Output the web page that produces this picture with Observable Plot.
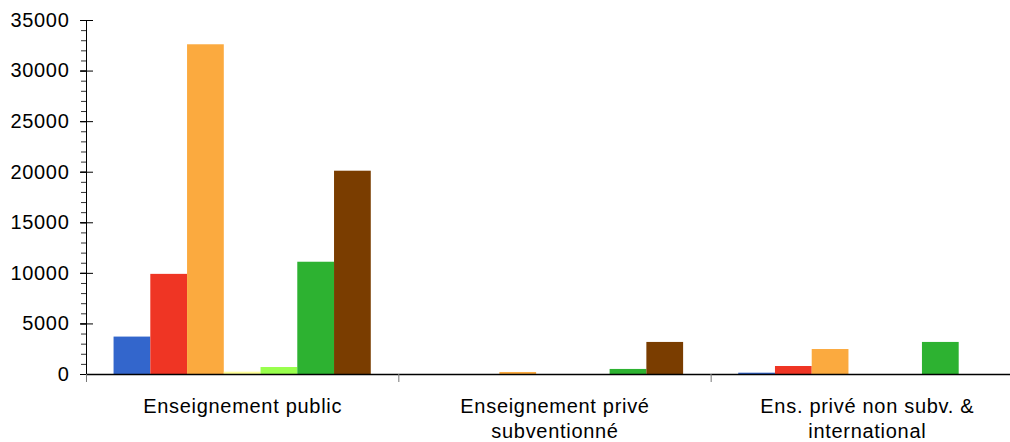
<!DOCTYPE html>
<html>
<head>
<meta charset="utf-8">
<script src="https://cdn.jsdelivr.net/npm/d3@7"></script>
<script src="https://cdn.jsdelivr.net/npm/@observablehq/plot@0.6"></script>
<style>
  html, body { margin: 0; padding: 0; background: #fff; }
  #chart svg { display: block; }
</style>
</head>
<body>
<div id="chart"></div>
<script>
// Categories (x groups) and their displayed labels
const categories = ["Enseignement public", "Enseignement privé subventionné", "Ens. privé non subv. & international"];
const categoryLabels = ["Enseignement public", "Enseignement privé\nsubventionné", "Ens. privé non subv. &\ninternational"];

// Series (no legend shown in the reference)
const series = ["Série 1", "Série 2", "Série 3", "Série 4", "Série 5", "Série 6", "Série 7"];
const seriesColors = ["#3366cc", "#ef3524", "#fbaa3f", "#ffff99", "#99ff4d", "#2db231", "#7a3d00"];

// Values per category (one entry per series)
const valuesPublic = [3700, 9900, 32600, 230, 690, 11100, 20100];
const valuesPriveSubv = [0, 0, 200, 0, 0, 500, 3170];
const valuesPriveNonSubv = [130, 790, 2470, 0, 0, 3170, 0];

// Y axis ticks
const majorTicks = [0, 5000, 10000, 15000, 20000, 25000, 30000, 35000];
const minorTicks = d3.range(0, 35001, 1000);

const valueRows = [valuesPublic, valuesPriveSubv, valuesPriveNonSubv];
const data = categories.flatMap((c, i) => series.map((s, j) => ({category: c, series: s, value: valueRows[i][j]})));
const labelOf = new Map(categories.map((c, i) => [c, categoryLabels[i]]));

const chart = Plot.plot({
  width: 1010,
  height: 442,
  marginLeft: 86,
  marginRight: -13,
  marginTop: 20,
  marginBottom: 68,
  style: {fontFamily: "'Liberation Sans', Arial, sans-serif", fontSize: "20px", background: "#fff", color: "#000", letterSpacing: "0.7px"},
  fx: {domain: categories, padding: 0, round: false, label: null},
  x: {domain: series, paddingInner: 0, paddingOuter: 0.75, round: false, axis: null},
  y: {domain: [0, 35000], label: null},
  color: {domain: series, range: seriesColors},
  marks: [
    Plot.barY(data, {fx: "category", x: "series", y: "value", fill: "series"}),
    Plot.ruleY([0], {stroke: "#000", strokeWidth: 1.5}),
    Plot.frame({anchor: "left", facetAnchor: "left", stroke: "#000"}),
    Plot.axisY({ticks: minorTicks, tickSize: 5, text: null, stroke: "#333", label: null}),
    Plot.axisY({ticks: majorTicks, tickSize: 13, dx: 7, text: null, stroke: "#000", label: null}),
    Plot.axisY({ticks: majorTicks, tickSize: 6, tickPadding: 11, tickFormat: d => String(d), label: null, stroke: "#000"}),
    Plot.axisFx({anchor: "bottom", tickSize: 8, dx: -156.17, text: null, stroke: "#777", label: null}),
    Plot.axisFx({anchor: "bottom", tickSize: 0, tickPadding: 21, tickFormat: d => labelOf.get(d), lineHeight: 1.25, label: null})
  ]
});
document.getElementById("chart").appendChild(chart);
</script>
</body>
</html>
